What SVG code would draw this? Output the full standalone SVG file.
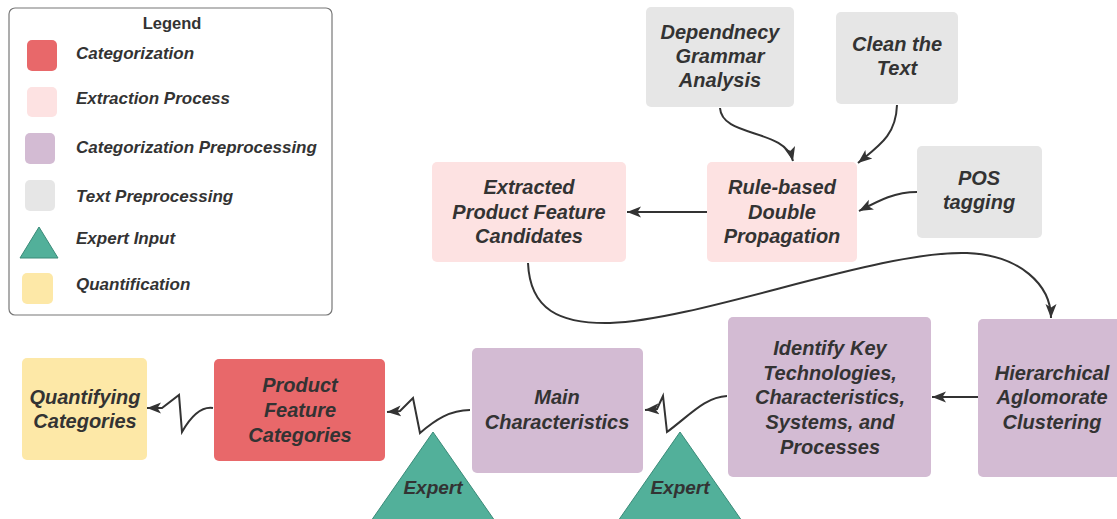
<svg xmlns="http://www.w3.org/2000/svg" width="1117" height="519" viewBox="0 0 1117 519">
<defs>
<marker id="arr" markerUnits="userSpaceOnUse" markerWidth="16" markerHeight="14" refX="14" refY="6.5" orient="auto">
<path d="M0,1 L14,6.5 L0,12 L3.5,6.5 z" fill="#333"/>
</marker>
<style>
.t{font-family:"Liberation Sans",Arial,sans-serif;font-weight:bold;font-style:italic;font-size:20px;fill:#333;text-anchor:middle}
.lg{font-family:"Liberation Sans",Arial,sans-serif;font-weight:bold;font-style:italic;font-size:17px;fill:#333}
.gray{fill:#e6e6e6}
.pink{fill:#fde2e2}
.purple{fill:#d3bbd3}
.red{fill:#e8686a}
.yellow{fill:#fde8a7}
.teal{fill:#52b09a;stroke:#3a8a78;stroke-width:1}
.c{fill:none;stroke:#333;stroke-width:2}
</style>
</defs>
<rect width="1117" height="519" fill="#fff"/>
<g id="legend">
<rect x="9" y="8" width="323" height="307" rx="6" fill="#fff" stroke="#777" stroke-width="1.2"/>
<text x="172" y="29" font-family="Liberation Sans,Arial,sans-serif" font-weight="bold" font-size="16.5" fill="#333" text-anchor="middle">Legend</text>
<rect x="27" y="40" width="30" height="31" rx="5" class="red"/>
<text x="76" y="59" class="lg">Categorization</text>
<rect x="27" y="87" width="30" height="30" rx="5" class="pink"/>
<text x="76" y="104" class="lg">Extraction Process</text>
<rect x="25" y="133" width="30" height="31" rx="5" class="purple"/>
<text x="76" y="153" class="lg">Categorization Preprocessing</text>
<rect x="25" y="180" width="30" height="31" rx="5" class="gray"/>
<text x="76" y="202" class="lg">Text Preprocessing</text>
<polygon points="39,227 58,258 20,258" class="teal"/>
<text x="76" y="244" class="lg">Expert Input</text>
<rect x="22" y="273" width="31" height="31" rx="5" class="yellow"/>
<text x="76" y="290" class="lg">Quantification</text>
</g>
<g id="dependency">
<rect x="646" y="7" width="148" height="100" rx="5" class="gray"/>
<text class="t" x="720" y="39">Dependnecy</text>
<text class="t" x="720" y="63">Grammar</text>
<text class="t" x="720" y="87">Analysis</text>
</g>
<g id="clean">
<rect x="836" y="12" width="122" height="92" rx="5" class="gray"/>
<text class="t" x="897" y="51">Clean the</text>
<text class="t" x="897" y="75">Text</text>
</g>
<g id="pos">
<rect x="917" y="146" width="125" height="92" rx="5" class="gray"/>
<text class="t" x="979" y="185">POS</text>
<text class="t" x="979" y="209">tagging</text>
</g>
<g id="rulebased">
<rect x="707" y="162" width="150" height="100" rx="5" class="pink"/>
<text class="t" x="782" y="194">Rule-based</text>
<text class="t" x="782" y="219">Double</text>
<text class="t" x="782" y="243">Propagation</text>
</g>
<g id="extracted">
<rect x="432" y="162" width="194" height="100" rx="5" class="pink"/>
<text class="t" x="529" y="194">Extracted</text>
<text class="t" x="529" y="219">Product Feature</text>
<text class="t" x="529" y="243">Candidates</text>
</g>
<g id="hierarchical">
<rect x="978" y="319" width="145" height="158" rx="5" class="purple"/>
<text class="t" x="1052" y="380">Hierarchical</text>
<text class="t" x="1052" y="404">Aglomorate</text>
<text class="t" x="1052" y="429">Clustering</text>
</g>
<g id="identify">
<rect x="728" y="317" width="203" height="160" rx="5" class="purple"/>
<text class="t" x="830" y="355">Identify Key</text>
<text class="t" x="830" y="380">Technologies,</text>
<text class="t" x="830" y="404">Characteristics,</text>
<text class="t" x="830" y="429">Systems, and</text>
<text class="t" x="830" y="454">Processes</text>
</g>
<g id="main">
<rect x="472" y="348" width="171" height="125" rx="5" class="purple"/>
<text class="t" x="557" y="404">Main</text>
<text class="t" x="557" y="429">Characteristics</text>
</g>
<g id="productcategories">
<rect x="214" y="359" width="171" height="102" rx="5" class="red"/>
<text class="t" x="300" y="392">Product</text>
<text class="t" x="300" y="417">Feature</text>
<text class="t" x="300" y="442">Categories</text>
</g>
<g id="quantifying">
<rect x="22" y="358" width="125" height="102" rx="5" class="yellow"/>
<text class="t" x="85" y="404">Quantifying</text>
<text class="t" x="85" y="428">Categories</text>
</g>
<g id="expert1">
<polygon points="433,432 495,521 371,521" class="teal"/>
<text class="t" x="433" y="494" style="font-size:19px">Expert</text>
</g>
<g id="expert2">
<polygon points="680,432 742,521 618,521" class="teal"/>
<text class="t" x="680" y="494" style="font-size:19px">Expert</text>
</g>
<g id="connectors">
<path class="c" marker-end="url(#arr)" d="M720,108 C722,138 785,128 793,161"/>
<path class="c" marker-end="url(#arr)" d="M897,105 C896,135 880,145 858,163"/>
<path class="c" marker-end="url(#arr)" d="M917,192 C895,192 880,200 859,211"/>
<path class="c" marker-end="url(#arr)" d="M707,212 L627,212"/>
<path class="c" marker-end="url(#arr)" d="M528,263 C530,310 560,324 610,323 C700,320 880,250 967,253 C1020,255 1051,285 1051,318"/>
<path class="c" marker-end="url(#arr)" d="M978,397 L932,397"/>
<path class="c" marker-end="url(#arr)" d="M727,396 C705,397 690,415 667,432 L663,396 L657,409 L645,410"/>
<path class="c" marker-end="url(#arr)" d="M470,410 C450,410 435,420 420,433 L413,398 L400,411 L387,412"/>
<path class="c" marker-end="url(#arr)" d="M213,408 C200,406 190,418 182,432 L179,395 L162,408 L147,408"/>
</g>
</svg>
